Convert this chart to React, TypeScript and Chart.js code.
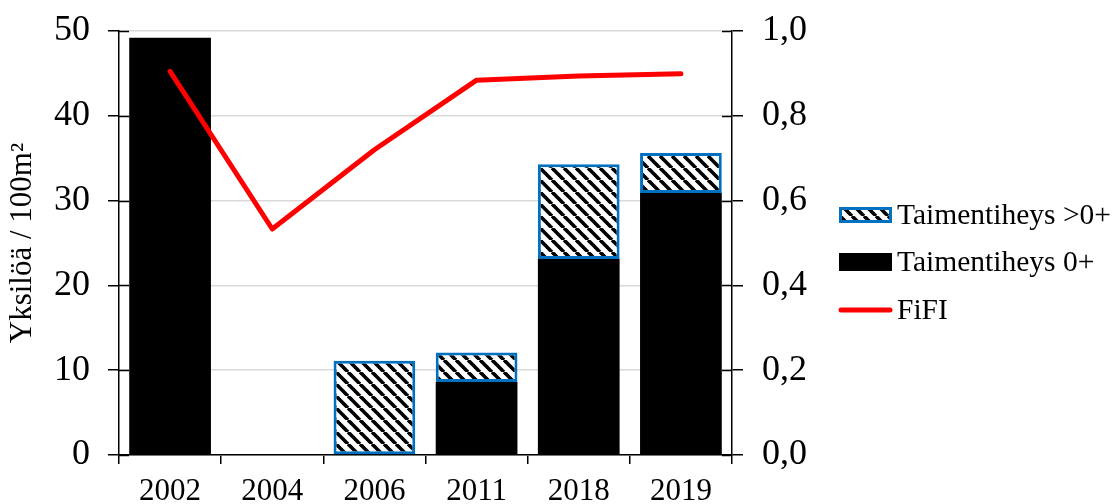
import React, { useEffect, useRef } from "react";
import { Chart, registerables } from "chart.js";

Chart.register(...registerables);

const categories = ["2002", "2004", "2006", "2011", "2018", "2019"];
const juvenile0 = [49.2, 0, 0, 8.6, 23.1, 30.9]; // Taimentiheys 0+
const older = [0, 0, 11.1, 3.5, 11.2, 4.7]; // Taimentiheys >0+
const fifi = [0.905, 0.533, 0.72, 0.884, 0.894, 0.899]; // FiFI
const leftTicks = [0, 10, 20, 30, 40, 50];
const rightTicks = [0, 0.2, 0.4, 0.6, 0.8, 1.0];

const labelOlder = "Taimentiheys >0+";
const labelYoung = "Taimentiheys 0+";
const labelFifi = "FiFI";
const yTitle = "Yksilöä / 100m²";

const FONT = "'Liberation Serif', 'Times New Roman', serif";
const BLUE = "#0070C0";
const RED = "#FF0000";

function makeHatch(): CanvasPattern | string {
  const s = 12;
  const c = document.createElement("canvas");
  c.width = s;
  c.height = s;
  const g = c.getContext("2d");
  if (!g) return "#888";
  g.fillStyle = "#fff";
  g.fillRect(0, 0, s, s);
  g.strokeStyle = "#000";
  g.lineWidth = 3.6;
  for (let k = -1; k <= 1; k++) {
    g.beginPath();
    g.moveTo(k * s, 0);
    g.lineTo(k * s + s, s);
    g.stroke();
  }
  const p = g.createPattern(c, "repeat");
  return p || "#888";
}

const noPad = (s: any) => {
  s.paddingTop = 0;
  s.paddingBottom = 0;
};

export default function App() {
  const ref = useRef<HTMLCanvasElement | null>(null);

  useEffect(() => {
    if (!ref.current) return;
    const hatch = makeHatch();

    const innerTicks = {
      id: "innerTicks",
      afterDraw(chart: any) {
        const { ctx, chartArea, scales } = chart;
        ctx.save();
        ctx.strokeStyle = "#000";
        ctx.lineWidth = 1.5;
        scales.y.ticks.forEach((_t: any, i: number) => {
          const y = Math.round(scales.y.getPixelForTick(i)) + 0.5;
          ctx.beginPath();
          ctx.moveTo(chartArea.left, y);
          ctx.lineTo(chartArea.left + 10, y);
          ctx.stroke();
        });
        scales.y1.ticks.forEach((_t: any, i: number) => {
          const y = Math.round(scales.y1.getPixelForTick(i)) + 0.5;
          ctx.beginPath();
          ctx.moveTo(chartArea.right - 10, y);
          ctx.lineTo(chartArea.right, y);
          ctx.stroke();
        });
        ctx.restore();
      },
    };

    const legendPlugin = {
      id: "customLegend",
      afterDraw(chart: any) {
        const { ctx } = chart;
        const x0 = 839;
        const boxW = 53;
        const textX = 897;
        const rows = [215, 262, 310];
        ctx.save();
        // hatched
        ctx.fillStyle = hatch as any;
        ctx.fillRect(x0, rows[0] - 8, boxW, 16);
        ctx.strokeStyle = BLUE;
        ctx.lineWidth = 3;
        ctx.strokeRect(x0 + 1.5, rows[0] - 8 + 1.5, boxW - 3, 16 - 3);
        // black
        ctx.fillStyle = "#000";
        ctx.fillRect(x0, rows[1] - 9, boxW, 18);
        // red line
        ctx.strokeStyle = RED;
        ctx.lineWidth = 5;
        ctx.lineCap = "round";
        ctx.beginPath();
        ctx.moveTo(x0 + 2, rows[2]);
        ctx.lineTo(x0 + boxW - 2, rows[2]);
        ctx.stroke();
        ctx.fillStyle = "#000";
        ctx.font = `29.5px ${FONT}`;
        ctx.textBaseline = "middle";
        ctx.textAlign = "left";
        ctx.fillText(labelOlder, textX, rows[0] + 1);
        ctx.fillText(labelYoung, textX, rows[1] + 1);
        ctx.fillText(labelFifi, textX, rows[2] + 1);
        ctx.restore();
      },
    };

    const chart = new Chart(ref.current, {
      type: "bar",
      data: {
        labels: categories,
        datasets: [
          {
            type: "line",
            label: labelFifi,
            data: fifi,
            yAxisID: "y1",
            borderColor: RED,
            backgroundColor: RED,
            borderWidth: 5,
            pointRadius: 0,
            tension: 0,
            borderJoinStyle: "round",
            borderCapStyle: "round",
            order: 0,
          } as any,
          {
            type: "bar",
            label: labelYoung,
            data: juvenile0,
            yAxisID: "y",
            backgroundColor: "#000",
            borderWidth: 0,
            stack: "s",
            order: 1,
            barPercentage: 0.8,
            categoryPercentage: 1,
          },
          {
            type: "bar",
            label: labelOlder,
            data: older,
            yAxisID: "y",
            backgroundColor: hatch as any,
            borderColor: BLUE,
            borderWidth: (c: any) => (c.raw ? 3 : 0),
            borderSkipped: false,
            stack: "s",
            order: 2,
            barPercentage: 0.8,
            categoryPercentage: 1,
          } as any,
        ],
      },
      options: {
        animation: false,
        responsive: true,
        maintainAspectRatio: false,
        layout: { padding: { top: 31, left: 0, right: 0, bottom: 0 } },
        plugins: {
          legend: { display: false },
          tooltip: { enabled: false },
        },
        scales: {
          x: {
            stacked: true,
            grid: {
              offset: true,
              drawOnChartArea: false,
              tickLength: 9,
              tickColor: "#000",
              lineWidth: 1.5,
            },
            border: { color: "#000", width: 1.5 },
            ticks: {
              color: "#000",
              font: { family: FONT, size: 31 },
              padding: 9,
              maxRotation: 0,
            },
            afterFit: (s: any) => {
              s.height = 49;
            },
          },
          y: {
            stacked: true,
            min: 0,
            max: 50,
            position: "left",
            afterBuildTicks: (s: any) => {
              s.ticks = leftTicks.map((v) => ({ value: v }));
            },
            grid: {
              color: "#d9d9d9",
              lineWidth: 1.5,
              tickLength: 11,
              tickColor: "#000",
            },
            border: { color: "#000", width: 1.5 },
            ticks: {
              color: "#000",
              font: { family: FONT, size: 36 },
              padding: 18,
            },
            title: {
              display: true,
              text: yTitle,
              color: "#000",
              font: { family: FONT, size: 31 },
              padding: { top: 4, bottom: 0 },
            },
            afterFit: (s: any) => {
              s.width = 119;
              noPad(s);
            },
          },
          y1: {
            min: 0,
            max: 1,
            position: "right",
            afterBuildTicks: (s: any) => {
              s.ticks = rightTicks.map((v) => ({ value: v }));
            },
            grid: {
              drawOnChartArea: false,
              tickLength: 11,
              tickColor: "#000",
              lineWidth: 1.5,
            },
            border: { color: "#000", width: 1.5 },
            ticks: {
              color: "#000",
              font: { family: FONT, size: 36 },
              padding: 19,
              callback: (v: any) => Number(v).toFixed(1).replace(".", ","),
            },
            afterFit: (s: any) => {
              s.width = 381;
              noPad(s);
            },
          },
        },
      },
      plugins: [innerTicks, legendPlugin],
    });
    return () => chart.destroy();
  }, []);

  return (
    <div style={{ position: "fixed", left: 0, top: 0, width: 1113, height: 504, background: "#fff" }}>
      <canvas ref={ref} />
    </div>
  );
}
